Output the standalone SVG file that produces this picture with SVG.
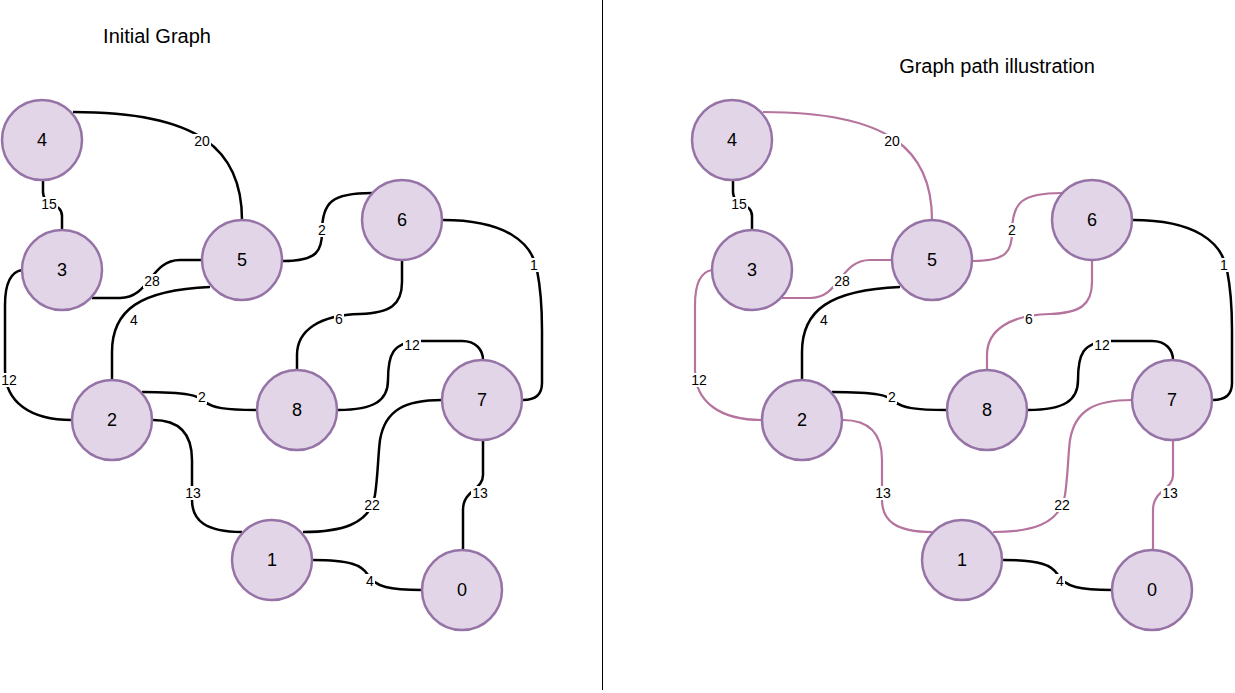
<svg xmlns="http://www.w3.org/2000/svg" width="1235" height="693" viewBox="0 0 1235 693">
<style>
.node circle{fill:#E1D5E7;stroke:#9673A6;stroke-width:2.5}
.node text{font-family:"Liberation Sans",Arial,sans-serif;font-size:18px;fill:#000;text-anchor:middle;dominant-baseline:central}
.e{fill:none;stroke:#000;stroke-width:2.5}
.p{stroke:#B5739D;stroke-width:2.2}
.bg{fill:#fff}
.lbl{font-family:"Liberation Sans",Arial,sans-serif;font-size:14px;fill:#000;text-anchor:middle;dominant-baseline:central}
.title{font-family:"Liberation Sans",Arial,sans-serif;font-size:20px;fill:#000;text-anchor:middle;dominant-baseline:central}
</style>
<rect width="1235" height="693" fill="#fff"/>
<line x1="602.5" y1="0" x2="602.5" y2="690" stroke="#000" stroke-width="1"/>
<text class="title" x="157" y="36">Initial Graph</text>
<text class="title" x="997" y="66">Graph path illustration</text>

<g id="left-graph">
<g id="left-edges">
<path class="e" d="M73,112 C200,112 242,150 242,220"/>
<path class="e" d="M43,181 L43,192 C43,206 62,202 62,216 L62,230"/>
<path class="e" d="M92,298 L120,298 C150,298 150,260 180,260 L202,260"/>
<path class="e" d="M283,261 C318,261 322,250 322,232 C322,202 332,193 372,193"/>
<path class="e" d="M443,220 C505,220 532,242 537,270 C541,290 542,310 542,330 L542,383 C542,395 535,400 523,400"/>
<path class="e" d="M402,261 L402,282 C402,305 390,313 360,314 C320,315 297,330 297,355 L297,370"/>
<path class="e" d="M338,410 C375,410 388,400 388,380 C388,355 392,342 420,341 L462,341 C476,341 483,350 483,360"/>
<path class="e" d="M22,270 C10,272 5,285 5,305 L5,370 C5,402 30,420 72,420"/>
<path class="e" d="M112,380 L112,352 C112,310 140,290 210,287"/>
<path class="e" d="M142,392 C190,392 198,396 204,401 C212,408 225,410 257,410"/>
<path class="e" d="M153,420 C180,420 192,435 192,460 L192,500 C192,520 205,532 242,532"/>
<path class="e" d="M303,532 C340,532 370,525 375,495 C378,475 378,455 380,440 C385,410 405,400 442,400"/>
<path class="e" d="M483,440 L483,475 C483,490 463,490 463,510 L463,550"/>
<path class="e" d="M313,560 C350,560 362,565 368,575 C375,587 390,590 422,590"/>
<rect class="bg" x="193" y="134" width="18" height="14"/><text class="lbl" x="202" y="141">20</text>
<rect class="bg" x="40" y="197" width="18" height="14"/><text class="lbl" x="49" y="204">15</text>
<rect class="bg" x="143" y="274" width="18" height="14"/><text class="lbl" x="152" y="281">28</text>
<rect class="bg" x="317" y="223" width="10" height="14"/><text class="lbl" x="322" y="230">2</text>
<rect class="bg" x="529" y="258" width="10" height="14"/><text class="lbl" x="534" y="265">1</text>
<rect class="bg" x="334" y="312" width="10" height="14"/><text class="lbl" x="339" y="319">6</text>
<rect class="bg" x="403" y="338" width="18" height="14"/><text class="lbl" x="412" y="345">12</text>
<rect class="bg" x="0" y="373" width="18" height="14"/><text class="lbl" x="9" y="380">12</text>
<rect class="bg" x="129" y="313" width="10" height="14"/><text class="lbl" x="134" y="320">4</text>
<rect class="bg" x="197" y="390" width="10" height="14"/><text class="lbl" x="202" y="397">2</text>
<rect class="bg" x="184" y="486" width="18" height="14"/><text class="lbl" x="193" y="493">13</text>
<rect class="bg" x="363" y="498" width="18" height="14"/><text class="lbl" x="372" y="505">22</text>
<rect class="bg" x="471" y="486" width="18" height="14"/><text class="lbl" x="480" y="493">13</text>
<rect class="bg" x="365" y="574" width="10" height="14"/><text class="lbl" x="370" y="581">4</text>
</g>
<g id="L4" class="node"><circle cx="42" cy="140" r="40"/><text x="42" y="140">4</text></g>
<g id="L3" class="node"><circle cx="62" cy="270" r="40"/><text x="62" y="270">3</text></g>
<g id="L5" class="node"><circle cx="242" cy="260" r="40"/><text x="242" y="260">5</text></g>
<g id="L6" class="node"><circle cx="402" cy="220" r="40"/><text x="402" y="220">6</text></g>
<g id="L2" class="node"><circle cx="112" cy="420" r="40"/><text x="112" y="420">2</text></g>
<g id="L8" class="node"><circle cx="297" cy="410" r="40"/><text x="297" y="410">8</text></g>
<g id="L7" class="node"><circle cx="482" cy="400" r="40"/><text x="482" y="400">7</text></g>
<g id="L1" class="node"><circle cx="272" cy="560" r="40"/><text x="272" y="560">1</text></g>
<g id="L0" class="node"><circle cx="462" cy="590" r="40"/><text x="462" y="590">0</text></g>
</g>

<g id="right-graph" transform="translate(690 0)">
<g id="right-edges">
<path class="e p" d="M73,112 C200,112 242,150 242,220"/>
<path class="e" d="M43,181 L43,192 C43,206 62,202 62,216 L62,230"/>
<path class="e p" d="M92,298 L120,298 C150,298 150,260 180,260 L202,260"/>
<path class="e p" d="M283,261 C318,261 322,250 322,232 C322,202 332,193 372,193"/>
<path class="e" d="M443,220 C505,220 532,242 537,270 C541,290 542,310 542,330 L542,383 C542,395 535,400 523,400"/>
<path class="e p" d="M402,261 L402,282 C402,305 390,313 360,314 C320,315 297,330 297,355 L297,370"/>
<path class="e" d="M338,410 C375,410 388,400 388,380 C388,355 392,342 420,341 L462,341 C476,341 483,350 483,360"/>
<path class="e p" d="M22,270 C10,272 5,285 5,305 L5,370 C5,402 30,420 72,420"/>
<path class="e" d="M112,380 L112,352 C112,310 140,290 210,287"/>
<path class="e" d="M142,392 C190,392 198,396 204,401 C212,408 225,410 257,410"/>
<path class="e p" d="M153,420 C180,420 192,435 192,460 L192,500 C192,520 205,532 242,532"/>
<path class="e p" d="M303,532 C340,532 370,525 375,495 C378,475 378,455 380,440 C385,410 405,400 442,400"/>
<path class="e p" d="M483,440 L483,475 C483,490 463,490 463,510 L463,550"/>
<path class="e" d="M313,560 C350,560 362,565 368,575 C375,587 390,590 422,590"/>
<rect class="bg" x="193" y="134" width="18" height="14"/><text class="lbl" x="202" y="141">20</text>
<rect class="bg" x="40" y="197" width="18" height="14"/><text class="lbl" x="49" y="204">15</text>
<rect class="bg" x="143" y="274" width="18" height="14"/><text class="lbl" x="152" y="281">28</text>
<rect class="bg" x="317" y="223" width="10" height="14"/><text class="lbl" x="322" y="230">2</text>
<rect class="bg" x="529" y="258" width="10" height="14"/><text class="lbl" x="534" y="265">1</text>
<rect class="bg" x="334" y="312" width="10" height="14"/><text class="lbl" x="339" y="319">6</text>
<rect class="bg" x="403" y="338" width="18" height="14"/><text class="lbl" x="412" y="345">12</text>
<rect class="bg" x="0" y="373" width="18" height="14"/><text class="lbl" x="9" y="380">12</text>
<rect class="bg" x="129" y="313" width="10" height="14"/><text class="lbl" x="134" y="320">4</text>
<rect class="bg" x="197" y="390" width="10" height="14"/><text class="lbl" x="202" y="397">2</text>
<rect class="bg" x="184" y="486" width="18" height="14"/><text class="lbl" x="193" y="493">13</text>
<rect class="bg" x="363" y="498" width="18" height="14"/><text class="lbl" x="372" y="505">22</text>
<rect class="bg" x="471" y="486" width="18" height="14"/><text class="lbl" x="480" y="493">13</text>
<rect class="bg" x="365" y="574" width="10" height="14"/><text class="lbl" x="370" y="581">4</text>
</g>
<g id="R4" class="node"><circle cx="42" cy="140" r="40"/><text x="42" y="140">4</text></g>
<g id="R3" class="node"><circle cx="62" cy="270" r="40"/><text x="62" y="270">3</text></g>
<g id="R5" class="node"><circle cx="242" cy="260" r="40"/><text x="242" y="260">5</text></g>
<g id="R6" class="node"><circle cx="402" cy="220" r="40"/><text x="402" y="220">6</text></g>
<g id="R2" class="node"><circle cx="112" cy="420" r="40"/><text x="112" y="420">2</text></g>
<g id="R8" class="node"><circle cx="297" cy="410" r="40"/><text x="297" y="410">8</text></g>
<g id="R7" class="node"><circle cx="482" cy="400" r="40"/><text x="482" y="400">7</text></g>
<g id="R1" class="node"><circle cx="272" cy="560" r="40"/><text x="272" y="560">1</text></g>
<g id="R0" class="node"><circle cx="462" cy="590" r="40"/><text x="462" y="590">0</text></g>
</g>
</svg>
